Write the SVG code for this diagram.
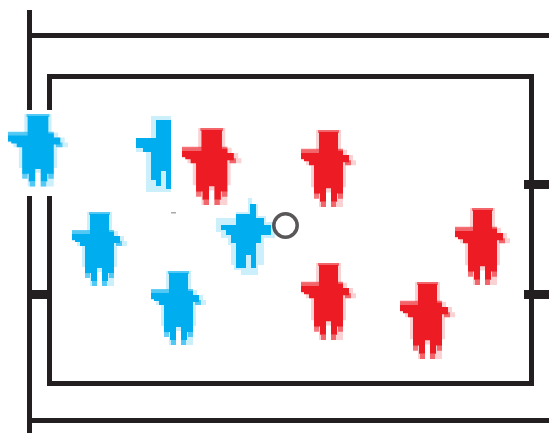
<svg xmlns="http://www.w3.org/2000/svg" width="549" height="433" viewBox="0 0 549 433">
<style>
.line{fill:#231f20}
.blue{fill:#00aeef}
.red{fill:#ed1c24}
.h{fill-opacity:.2}
.m{fill-opacity:.6}
</style>
<defs>
<g id="fig">
<path class="h" d="M15 0H40V19H46V24H52V29H55V34H45V55H42V74H30V60H25V74H18V62H14V55H10V34H5V29H0V19H15Z"/>
<path class="m" d="M0 18H42V24H0ZM17 0H38V3H17ZM44 29H50V34H44ZM13 60H18V66H13ZM37 60H42V66H37ZM20 69H25V74H20ZM30 69H35V74H30Z"/>
<path d="M18 2H37V20H42V24H48V31H42V61H36V69H30V56H25V69H19V61H13V34H8V30H3V28H0V22H18Z"/>
</g>
</defs>
<rect width="549" height="433" fill="#fff"/>
<g id="connectors" class="line">
<path d="M27 10H32V110H27ZM27 196H32V433H27Z"/>
<path d="M32 33H549V38H32Z"/>
<path d="M32 418H549V423H32Z"/>
<path d="M47 74H534V386H47V196H52V381H529V79H52V110H47Z"/>
<path d="M27 290H52V299H27Z"/>
<path d="M524 180H549V189H524Z"/>
<path d="M524 290H549V299H524Z"/>
</g>
<g id="blue-1" class="blue"><use href="#fig" transform="translate(8 114) scale(1.09 .98)"/></g>
<g id="blue-2" class="blue">
<path class="h" d="M151 116H171V192H146V152H136V138H151Z"/>
<path d="M156 120H171V189H166V171H161V186H156V180H151V152H143V148H136V138H156Z"/>
</g>
<g id="red-1" class="red"><use href="#fig" transform="translate(182 128) scale(1.08 1.04)"/></g>
<g id="blue-3" class="blue"><use href="#fig" transform="translate(72 212)"/></g>
<g id="blue-4" class="blue">
<path class="h" d="M248 198H252V204H258V216H266V222H275V238H264V265H258V275H241V270H234V265H231V245H228V238H221V232H216V218H236V212H248Z"/>
<path d="M250 204H256V218H264V225H271V235H261V243H256V268H251V255H246V268H236V243H231V235H226V230H221V225H236V214H250Z"/>
</g>
<g id="ball"><circle cx="285.500" cy="225.500" r="11.700" fill="#fff" stroke="#231f20" stroke-opacity=".75" stroke-width="3.500"/></g>
<rect id="mark" x="171" y="212" width="5" height="1.500" fill="#aaa"/>
<g id="blue-5" class="blue"><use href="#fig" transform="translate(151 271)"/></g>
<g id="red-2" class="red"><use href="#fig" transform="translate(301 130) scale(1 1.04)"/></g>
<g id="red-3" class="red"><use href="#fig" transform="translate(455 208) scale(1 1.04)"/></g>
<g id="red-4" class="red"><use href="#fig" transform="translate(301 263) scale(1 1.04)"/></g>
<g id="red-5" class="red"><use href="#fig" transform="translate(400 282) scale(1 1.04)"/></g>
</svg>
